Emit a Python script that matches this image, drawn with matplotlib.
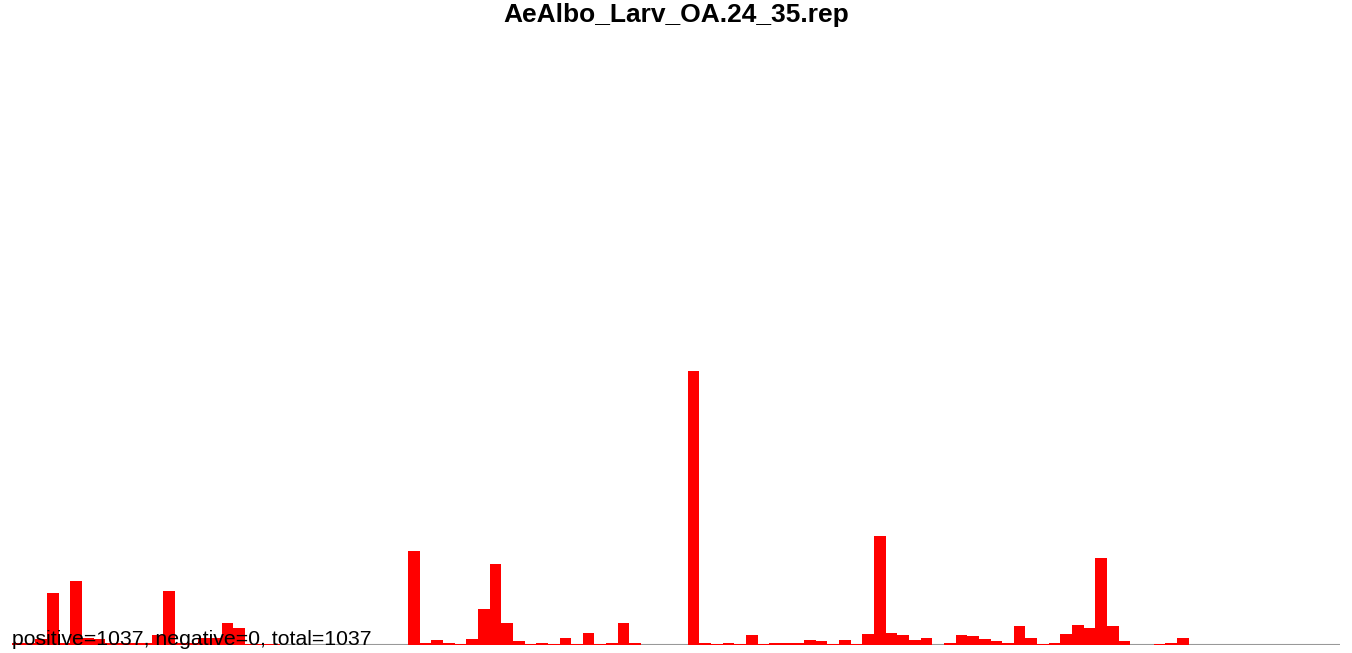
import numpy as np
import matplotlib
matplotlib.use("Agg")
import matplotlib.pyplot as plt

plt.rcParams['font.family'] = ['Liberation Sans', 'DejaVu Sans']

title = "AeAlbo_Larv_OA.24_35.rep"
n_bins = 114

# read counts per bin (bin index -> count), all others are zero
bins = [0, 1, 2, 3, 4, 5, 6, 7, 8, 9, 10, 11, 12, 13, 14, 15, 16, 17, 18, 19, 20, 21, 22,
        34, 35, 36, 37, 38, 39, 40, 41, 42, 43, 44, 45, 46, 47, 48, 49, 50, 51, 52, 53,
        58, 59, 60, 61, 62, 63, 64, 65, 66, 67, 68, 69, 70, 71, 72, 73,
        74, 75, 76, 77, 78, 80, 81, 82, 83, 84, 85, 86, 87,
        88, 89, 90, 91, 92, 93, 94, 95, 98, 99, 100]
counts = [2, 2, 5, 42, 2, 51, 6, 5, 2, 2, 2, 2, 8, 43, 2, 2, 6, 6, 18, 14, 1, 1, 1,
          75, 2, 4, 2, 1, 5, 29, 65, 18, 3, 1, 2, 1, 6, 1, 10, 1, 2, 18, 2,
          219, 2, 1, 2, 1, 8, 1, 2, 2, 2, 4, 3, 1, 4, 1, 9,
          87, 10, 8, 4, 6, 2, 8, 7, 5, 3, 2, 15, 6,
          1, 2, 9, 16, 14, 70, 15, 3, 1, 2, 6]
positive = 1037
negative = 0
total = 1037

fig = plt.figure(figsize=(13.52, 6.53), dpi=100)
ax = fig.add_axes([12 / 1352, 8 / 653, 1328 / 1352, 600 / 653])

ax.axhline(0, color='#999999', lw=1.5, zorder=1)
ax.bar(bins, counts, width=1.0, align='edge', color='#ff0000', linewidth=0, zorder=2)

ax.set_xlim(0, n_bins)
ax.set_ylim(0, 480)
ax.axis('off')

ax.text(0, 0, f"positive={positive}, negative={negative}, total={total}",
        fontsize=15.3, color='black', ha='left', va='baseline', zorder=3)

fig.text(0.5, 1 - 22 / 653, title, fontsize=19, fontweight='bold',
         ha='center', va='baseline')

fig.savefig("out.png", dpi=100)
